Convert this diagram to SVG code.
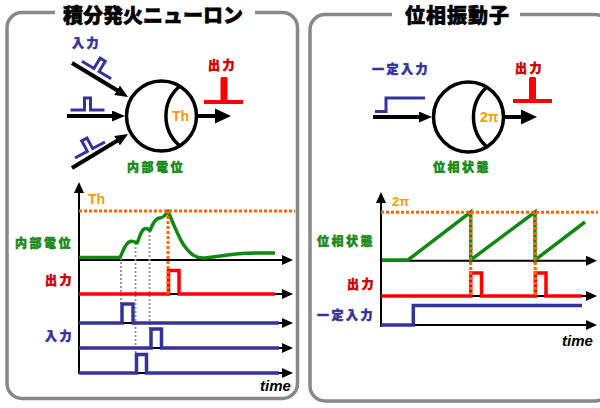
<svg xmlns="http://www.w3.org/2000/svg" width="600" height="408" viewBox="0 0 600 408">
<defs>
<style>
.panel{fill:none;stroke:#888;stroke-width:3.5}
.title{font-family:"Noto Sans CJK JP","Noto Sans CJK SC",sans-serif;font-weight:900;font-size:20px;fill:#000;stroke:#000;stroke-width:0.6}
.lbl{font-family:"Noto Sans CJK JP","Noto Sans CJK SC",sans-serif;font-weight:900;font-size:12px;letter-spacing:2.5px;stroke-width:0.5}
.blue{fill:#333399;stroke:#333399}
.red{fill:#cc0000;stroke:#cc0000}
.green{fill:#1a8a1a;stroke:#1a8a1a}
.orange{fill:#ff9900}
.lat{font-family:"Liberation Sans",Arial,sans-serif;font-weight:bold}
.time{font-family:"Liberation Sans",Arial,sans-serif;font-weight:bold;font-style:italic;font-size:15px;fill:#000}
.thick{fill:none;stroke:#000;stroke-width:4}
.ring{fill:#fff;stroke:#000;stroke-width:3.5}
.axis{fill:none;stroke:#000;stroke-width:2}
.sigB{fill:none;stroke:#333399;stroke-width:3.5}
.sigR{fill:none;stroke:#ff0000;stroke-width:3.5}
.sigG{fill:none;stroke:#118811;stroke-width:3.5;stroke-linejoin:round}
.dotO{fill:none;stroke:#ff6600;stroke-width:3;stroke-dasharray:3,2}
.dotG{fill:none;stroke:#999;stroke-width:2;stroke-dasharray:2,2}
</style>
<marker id="bigArrow" markerUnits="userSpaceOnUse" markerWidth="13" markerHeight="11" refX="4" refY="5.5" orient="auto">
<path d="M0,0 L13,5.5 L0,11 z" fill="#000"/>
</marker>
<marker id="axArrow" markerUnits="userSpaceOnUse" markerWidth="11" markerHeight="10" refX="1" refY="5" orient="auto">
<path d="M0,0 L11,5 L0,10 z" fill="#000"/>
</marker>
<path id="pulse" d="M-17,0 H-3 V-12 H3 V0 H17"/>
</defs>
<rect width="600" height="408" fill="#fff"/>

<g id="panel-left">
<rect class="panel" x="7" y="12.5" width="290.5" height="386" rx="15"/>
<rect x="55" y="5" width="200" height="16" fill="#fff"/>
<text class="title" x="63" y="23">積分発火ニューロン</text>
</g>
<g id="panel-right">
<rect class="panel" x="310" y="14.5" width="300" height="386.5" rx="15"/>
<rect x="392" y="5" width="128" height="16" fill="#fff"/>
<text class="title" x="405" y="23" letter-spacing="1">位相振動子</text>
</g>

<g id="connectors">
<line class="thick" x1="72" y1="63" x2="120.4" y2="92.3" marker-end="url(#bigArrow)"/>
<line class="thick" x1="67" y1="116" x2="116" y2="116" marker-end="url(#bigArrow)"/>
<line class="thick" x1="72" y1="168" x2="120.4" y2="138.7" marker-end="url(#bigArrow)"/>
<line class="thick" x1="197" y1="116" x2="216" y2="116"/>
<polygon points="215,108.5 231,116 215,123.5" fill="#000"/>
<line class="thick" x1="373" y1="117" x2="423" y2="117" marker-end="url(#bigArrow)"/>
<line class="thick" x1="504" y1="117" x2="522" y2="117"/>
<polygon points="521,109.5 537,117 521,124.5" fill="#000"/>
</g>

<g id="neuron">
<circle class="ring" cx="161.5" cy="116" r="35"/>
<path class="thick" style="stroke-width:3.5" d="M180,86 A39,39 0 0 0 180,146"/>
<text class="lat orange" x="172" y="120.5" font-size="14">Th</text>
<text class="lbl green" x="127" y="172">内部電位</text>
<use href="#pulse" class="sigB" style="stroke-width:3" transform="translate(96.5,70) rotate(31)"/>
<use href="#pulse" class="sigB" style="stroke-width:3" transform="translate(87.5,110)"/>
<use href="#pulse" class="sigB" style="stroke-width:3" transform="translate(90,150) rotate(-28) scale(-1,1)"/>
<text class="lbl blue" x="72" y="48">入力</text>
<g id="out-left">
<line x1="204" y1="102" x2="243" y2="102" stroke="#ff0000" stroke-width="4"/>
<rect x="220.5" y="77" width="7" height="25" rx="1.5" fill="#ff0000"/>
</g>
<text class="lbl red" x="208" y="69.5">出力</text>
</g>

<g id="oscillator">
<circle class="ring" cx="468.5" cy="117" r="35"/>
<path class="thick" style="stroke-width:3.5" d="M487,87 A40,40 0 0 0 487,147"/>
<text class="lat orange" x="480" y="122" font-size="14">2π</text>
<text class="lbl green" x="433" y="172">位相状態</text>
<path class="sigB" style="stroke-width:3" d="M375,111.5 H386 V98 H425"/>
<text class="lbl blue" x="372" y="73.5">一定入力</text>
<line x1="513" y1="101" x2="552" y2="101" stroke="#ff0000" stroke-width="4"/>
<rect x="529" y="77" width="7" height="24" rx="1.5" fill="#ff0000"/>
<text class="lbl red" x="515" y="72.5">出力</text>
</g>

<g id="chart-left">
<line class="axis" x1="79" y1="374" x2="79" y2="192" marker-end="url(#axArrow)"/>
<line class="axis" x1="78" y1="260" x2="283" y2="260" marker-end="url(#axArrow)"/>
<line class="axis" x1="78" y1="294" x2="283" y2="294" marker-end="url(#axArrow)"/>
<line class="axis" x1="78" y1="323" x2="283" y2="323" marker-end="url(#axArrow)"/>
<line class="axis" x1="78" y1="348" x2="283" y2="348" marker-end="url(#axArrow)"/>
<line class="axis" x1="78" y1="373" x2="283" y2="373" marker-end="url(#axArrow)"/>
<line class="dotG" x1="121" y1="258" x2="121" y2="304"/>
<line class="dotG" x1="135.5" y1="243" x2="135.5" y2="354"/>
<line class="dotG" x1="149.5" y1="231" x2="149.5" y2="329"/>
<path class="sigG" d="M79,257.5 H120 C123,252 125,243 130,241.5 C133,240.5 135,242 137,243 C139,240 140,232 144,229 C147,227.5 148,229 150,230.5 C152,226 154,220 158,218.5 C161,217.5 164,218.5 168,211 C171,218 176,232 183,244 C190,254 196,259 205,258 C215,257 230,253.5 255,253 L275,253"/>
<path class="sigR" d="M79,294 H168.5 V270.5 H179 V294 H275"/>
<path class="sigB" d="M79,323 H122 V304 H133 V323 H279"/>
<path class="sigB" d="M79,348 H151 V329 H161.5 V348 H279"/>
<path class="sigB" d="M79,373 H136.5 V354.5 H146.5 V373 H279"/>
<line class="dotO" x1="79" y1="211" x2="295" y2="211"/>
<line class="dotO" x1="168" y1="211" x2="168" y2="294"/>
<text class="lat orange" x="88" y="204" font-size="14">Th</text>
<text class="lbl green" x="15" y="247.5">内部電位</text>
<text class="lbl red" x="45" y="285" letter-spacing="3">出力</text>
<text class="lbl blue" x="45" y="341" letter-spacing="3">入力</text>
<text class="time" x="260" y="390.5">time</text>
</g>

<g id="chart-right">
<line class="axis" x1="381" y1="327" x2="381" y2="202" marker-end="url(#axArrow)"/>
<line class="axis" x1="380" y1="260.7" x2="587" y2="260.7" marker-end="url(#axArrow)"/>
<line class="axis" x1="380" y1="296" x2="587" y2="296" marker-end="url(#axArrow)"/>
<line class="axis" x1="380" y1="325" x2="587" y2="325" marker-end="url(#axArrow)"/>
<path class="sigG" style="stroke-linejoin:miter" d="M382,260 H408 L470.7,212 V260 L535,212 V260 L585,222"/>
<path class="sigR" d="M381,296 H470.7 V273 H481.5 V296 H535.3 V273 H546 V296 H582"/>
<path class="sigB" d="M381,325 H413.3 V305.5 H582"/>
<line class="dotO" x1="381" y1="212.3" x2="598" y2="212.3"/>
<line class="dotO" x1="470.7" y1="212" x2="470.7" y2="296"/>
<line class="dotO" x1="535.3" y1="212" x2="535.3" y2="296"/>
<text class="lat orange" x="392" y="206" font-size="13">2π</text>
<text class="lbl green" x="317" y="246">位相状態</text>
<text class="lbl red" x="347" y="289" letter-spacing="3">出力</text>
<text class="lbl blue" x="317" y="319.5">一定入力</text>
<text class="time" x="562" y="346">time</text>
</g>
</svg>
